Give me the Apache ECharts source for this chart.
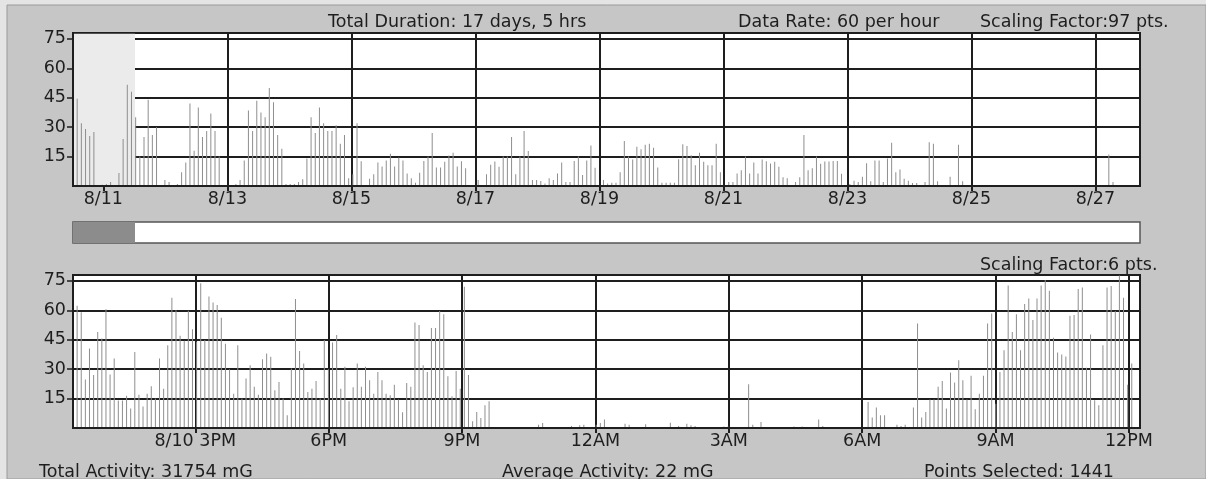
<!DOCTYPE html>
<html><head><meta charset="utf-8">
<script src="https://cdn.jsdelivr.net/npm/echarts@6/dist/echarts.min.js"></script>
<style>html,body{margin:0;padding:0;background:#e4e4e4;}#c{width:1206px;height:479px;}</style>
</head><body><div id="c"></div>
<script>
// ---- time frame (minutes counted from 8/10 00:00) ----
const overviewStartMin = 735;      // 8/10 12:15 PM
const overviewEndMin = 25515;      // + 17 days, 5 hrs
const overviewStepMin = 97;        // scaling factor 97 pts at 60 per hour
const selectStartMin = 735;
const selectEndMin = 2175;
const detailBarCount = 259;

const overviewTicks = [1440, 4320, 7200, 10080, 12960, 15840, 18720, 21600, 24480];
const overviewTickLabels = ['8/11', '8/13', '8/15', '8/17', '8/19', '8/21', '8/23', '8/25', '8/27'];
const detailTicks = [900, 1080, 1260, 1440, 1620, 1800, 1980, 2160];
const detailTickLabels = ['8/10 3PM', '6PM', '9PM', '12AM', '3AM', '6AM', '9AM', '12PM'];
const yTicks = [15, 30, 45, 60, 75];

// ---- activity values (mG) ----
const overviewValues = [
34,44.5,32,29,25.5,27.5,0,0.7,1,2,0,6.6,24,51.6,48,35,15,25,44,26,
30,0,3,2,0.5,1,7,12,42,18,40,25,28,37,28,15,0.5,0.5,0.5,1,
3,13,38.5,28,43.5,37.5,35,50,42.7,26,19,1,1,1,2,3.5,14,35,27,40,
32,28,28,31,21.5,26,4,6,32,12.6,0,3.7,6,12,10,13,16.4,10,14.5,13,
6.4,4,1.7,6.7,12.8,15,27,9.4,9.4,12.3,15.5,17,10,12.6,9,0,0.5,3,0.5,6,
10.8,12.5,9.8,15,15,25,6,15,28,17.8,3,3,2.5,1.3,3.9,3,6.4,12,2,2,
12.8,15,5.6,13,20.6,9.3,0,3,1.3,1.7,1.7,7,23,15,13.5,20,18.7,21,21.6,19.5,
9.4,1.7,1.7,1.7,1.7,13.7,21.3,20.4,15.7,10.6,17,12.3,10.6,10.6,21.6,7,0,2,2,6.4,
8,15,6.4,12,6.4,13.5,12.6,11.5,12.3,9.8,4.4,4,0,2,4.4,26,8,9,15,11.3,
12.5,12.5,12.8,12.8,6.2,0,1,2.7,2,4.7,11.6,2.4,13,13,2,14,22,7,8.4,3.7,
2.7,1.5,1.5,0,2,22.3,21.6,2.4,0,0,4.7,0,21,2.4,0,0,0,0,0,0,
0,0,0,0,0,0,0,0,0,0,0,0,0,0,0,0,0,0,0,0,
0,0,0,0,0,0,0,0,16,2,0,0,0,0,0,0
];
const detailValues = [
62.7,62.3,59,24.7,40.5,27,49,45.6,60.6,27.3,35.4,14,14,16.4,10,38.8,17,11,17.5,21.3,
15,35.4,20,42.2,66.4,60,47,44.5,59.8,50.4,44,73.8,44.8,67,64,62.7,56.2,43,30,17.5,
42.2,15,25.2,32,21,17,35,38,36.3,19.3,23.5,15,6.5,30.3,65.8,39.2,32.9,18.4,20,24,
15,44.8,30,43.6,47.4,20,31.2,13.6,20.8,32.9,21,31.2,24.4,17.5,28.6,24.4,17.5,16.7,22,14.5,
8,23,21,53.8,52.5,32,28.6,51,51,59.6,58,26.4,16.2,29,20,72,27,3.4,8.2,5.1,
11.6,13.6,0,0,0,0,0,0,0,0,0,0,0,1.7,2.5,0,0,0,0,0,
0,1,0,1.4,1.7,0,0,1.7,2.5,4.3,0,0,0,0,2.2,1.7,0,0,0,1.9,
0,0,0,0,0,2.7,0,1,0,2.2,1.4,1,0,0,0,0,0,0,0.8,0.8,
0,0,0,0,22.3,1.7,0,3,0,0,0,0,0,0,0,0.8,0,0.8,0,0,
0,4.3,1,0,0,0,0,0,0,0,0,0,0,13.3,5.3,10.4,6.5,6.5,0,0,
1.7,1,1.7,0,10.4,53.3,5.3,8.2,14.5,14.5,21,24,10,28.3,23.2,34.6,24.4,14.5,26.6,9.5,
17.5,26.6,53.3,58.4,12.4,28.6,39.7,72.6,49,58,39.7,63.2,66,55,66,72.6,75.5,70,46,38.5,
37.5,36.5,57.2,57.6,70.9,71.6,30.7,47.7,14.1,11.6,42.2,71.6,72.4,59.6,77.7,66.4,22,32.9,0
];

// ---- build ----
const FONT = 'DejaVu Sans';
const FS = 17.5;
const INK = '#1e1e1e';
const detailStepMin = (selectEndMin - selectStartMin) / detailBarCount;
const overviewData = overviewValues.map((v, i) => [overviewStartMin + i * overviewStepMin, v]);
const detailData = detailValues.map((v, i) => [selectStartMin + i * detailStepMin, v]);
// the shaded selection hides the grid lines inside it
const overviewGridTicks = overviewTicks.filter(t => t < selectStartMin || t > selectEndMin);
const Y_MAX = 78;

function xAxisCfg(gridIndex, min, max, ticks, labels) {
  return {
    type: 'value', gridIndex, min, max, z: 10,
    axisLine: { show: true, onZero: false, lineStyle: { color: INK, width: 2 } },
    axisTick: { show: true, customValues: ticks, length: 5, lineStyle: { color: INK, width: 2 } },
    axisLabel: { show: true, customValues: ticks, margin: 4, color: INK, fontFamily: FONT, fontSize: FS,
      formatter: v => { const k = ticks.indexOf(v); return k >= 0 ? labels[k] : ''; } },
    splitLine: { show: false }
  };
}
function yAxisCfg(gridIndex) {
  return {
    type: 'value', gridIndex, min: 0, max: Y_MAX, interval: 15,
    axisLine: { show: false },
    axisTick: { show: true, customValues: yTicks, length: 6, lineStyle: { color: INK, width: 1.5 } },
    axisLabel: { show: true, customValues: yTicks, margin: 7, color: INK, fontFamily: FONT, fontSize: FS },
    splitLine: { show: true, lineStyle: { color: INK, width: 2 } }
  };
}
function frameAxis(gridIndex) {
  return { type: 'value', gridIndex, min: 0, max: Y_MAX, z: 10, position: 'left',
    axisLine: { show: true, lineStyle: { color: INK, width: 2 } },
    axisTick: { show: false }, axisLabel: { show: false }, splitLine: { show: false } };
}
function vLines(xIdx, yIdx, ticks) {
  return { type: 'line', xAxisIndex: xIdx, yAxisIndex: yIdx, data: [], z: 1, silent: true,
    markLine: { silent: true, symbol: ['none', 'none'], label: { show: false },
      lineStyle: { color: INK, width: 2, type: 'solid' },
      data: ticks.map(t => ({ xAxis: t })) } };
}
function txt(x, y, text) {
  return { type: 'text', x, y, style: { text, fontFamily: FONT, fontSize: FS, fill: INK,
    verticalAlign: 'middle', textVerticalAlign: 'middle' } };
}

const chart = echarts.init(document.getElementById('c'), null, { renderer: 'canvas' });
chart.setOption({
  animation: false,
  backgroundColor: '#e4e4e4',
  grid: [
    { left: 73, right: 66, top: 33, height: 153, show: true, backgroundColor: '#ffffff', borderColor: INK, borderWidth: 2 },
    { left: 73, right: 66, top: 275, height: 153, show: true, backgroundColor: '#ffffff', borderColor: INK, borderWidth: 2 },
    { left: 73, right: 66, top: 222, height: 21, show: true, backgroundColor: '#ffffff', borderColor: '#555', borderWidth: 1.5 }
  ],
  xAxis: [
    xAxisCfg(0, overviewStartMin, overviewEndMin, overviewTicks, overviewTickLabels),
    xAxisCfg(1, selectStartMin, selectEndMin, detailTicks, detailTickLabels),
    { type: 'value', gridIndex: 2, min: overviewStartMin, max: overviewEndMin, show: false }
  ],
  yAxis: [
    yAxisCfg(0), yAxisCfg(1),
    { type: 'value', gridIndex: 2, min: 0, max: 1, show: false },
    frameAxis(0), frameAxis(1)
  ],
  graphic: [
    { type: 'rect', z: -10, shape: { x: 7, y: 5, width: 1199, height: 474 }, style: { fill: '#c6c6c6', stroke: '#9a9a9a', lineWidth: 1 } },
    txt(328, 22, 'Total Duration: 17 days, 5 hrs'),
    txt(738, 22, 'Data Rate: 60 per hour'),
    txt(980, 22, 'Scaling Factor:97 pts.'),
    txt(980, 265, 'Scaling Factor:6 pts.'),
    txt(39, 472, 'Total Activity: 31754 mG'),
    txt(502, 472, 'Average Activity: 22 mG'),
    txt(924, 472, 'Points Selected: 1441')
  ],
  series: [
    vLines(0, 0, overviewGridTicks),
    vLines(1, 1, detailTicks),
    { type: 'line', xAxisIndex: 0, yAxisIndex: 0, data: [], z: 2, silent: true,
      markArea: { silent: true, itemStyle: { color: '#ebebeb' },
        data: [[{ xAxis: selectStartMin, yAxis: 0 }, { xAxis: selectEndMin, yAxis: Y_MAX - 0.4 }]] } },
    { type: 'line', xAxisIndex: 2, yAxisIndex: 2, data: [], z: 2, silent: true,
      markArea: { silent: true, itemStyle: { color: '#8c8c8c' },
        data: [[{ xAxis: selectStartMin, yAxis: 0 }, { xAxis: selectEndMin, yAxis: 1 }]] } },
    { type: 'bar', name: 'overview', xAxisIndex: 0, yAxisIndex: 0, data: overviewData, barWidth: 1, z: 5,
      itemStyle: { color: '#8e8e8e' } },
    { type: 'bar', name: 'detail', xAxisIndex: 1, yAxisIndex: 1, data: detailData, barWidth: 1, z: 5,
      itemStyle: { color: '#8e8e8e' } }
  ]
});
</script></body></html>
